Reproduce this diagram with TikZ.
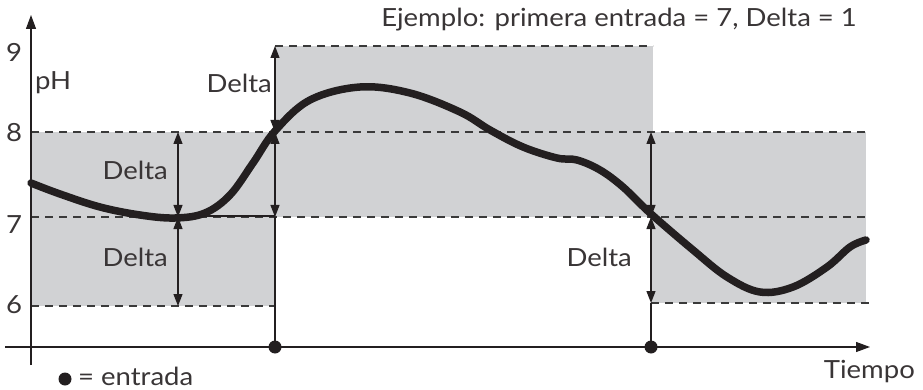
\documentclass[tikz,border=0pt]{standalone}
\usepackage{fontspec}
\setmainfont{Lato}[FakeStretch=1.1]
\usetikzlibrary{arrows.meta}
\definecolor{band}{HTML}{D1D2D4}
\definecolor{dashc}{HTML}{3A3A3A}
\definecolor{txt}{HTML}{231F20}
\begin{document}
\begin{tikzpicture}[x=1pt,y=-1pt,
  lab/.style={font=\fontsize{25}{29}\selectfont, text=txt!90, inner sep=0pt},
  dline/.style={draw=dashc, line width=1.1pt, dash pattern=on 8pt off 6pt},
  thin/.style={draw=txt, line width=1.2pt},
  dblarr/.style={thin, {Triangle[length=12pt,width=9pt]}-{Triangle[length=12pt,width=9pt]}},
  axis/.style={thin, -{Triangle[length=14pt,width=10pt]}},
  dotmark/.style={circle, fill=txt, inner sep=0pt, minimum size=13pt},
  curve/.style={draw=txt, line width=7.5pt, line cap=round}]
\useasboundingbox (0,0) rectangle (923,390);
% gray bands
\fill[band] (31,132) rectangle (275,306);
\fill[band] (275,46) rectangle (653,217);
\fill[band] (651,132) rectangle (866,303);
% dashed levels
\coordinate (d9a) at (275,46);  \coordinate (d9b) at (653,46);
\coordinate (d8a) at (31,132);  \coordinate (d8b) at (870,132);
\coordinate (d7a) at (31,217);  \coordinate (d7b) at (870,217);
\coordinate (d6a) at (31,306);  \coordinate (d6b) at (275,306);
\coordinate (d6c) at (651,303); \coordinate (d6d) at (870,303);
\draw[dline] (d9a) -- (d9b);
\draw[dline] (d8a) -- (d8b);
\draw[dline] (d7a) -- (d7b);
\draw[dline] (d6a) -- (d6b);
\draw[dline] (d6c) -- (d6d);
% axes
\coordinate (yb) at (31,365); \coordinate (yt) at (31,15);
\coordinate (xl) at (5,347);  \coordinate (xr) at (870,347);
\draw[axis] (yb) -- (yt);
\draw[axis] (xl) -- (xr);
% vertical markers
\coordinate (a8) at (178,132); \coordinate (a7) at (178,217); \coordinate (a6) at (178,306);
\draw[dblarr] (a8) -- (a7);
\draw[dblarr] (a7) -- (a6);
\node[dotmark] (e1) at (275,347) {};
\node[dotmark] (e2) at (651,347) {};
\coordinate (b7) at (275,217); \coordinate (b8) at (275,132); \coordinate (b9) at (275,46);
\draw[thin] (e1.center) -- (b7);
\draw[dblarr] (b7) -- (b8);
\draw[dblarr] (b8) -- (b9);
\coordinate (h1) at (190,216); \coordinate (h2) at (275,216);
\draw[thin] (h1) -- (h2);
\coordinate (c6) at (651,303); \coordinate (c7) at (651,217); \coordinate (c8) at (651,132);
\draw[thin] (e2.center) -- (c6);
\draw[dblarr] (c6) -- (c7);
\draw[dblarr] (c7) -- (c8);
% curve
\draw[curve] plot[smooth, tension=0.6] coordinates {
 (31,183) (60,194) (100,207) (140,215) (175,218) (205,213) (230,195)
 (253,163) (275,131) (310,100) (360,87) (410,93) (460,112) (490,130) (523,147)
 (557,158) (577,160) (600,170) (623,187) (650,213) (693,250) (727,277) (760,292)
 (793,287) (827,267) (850,247) (866,240)};
% labels
\node[lab, anchor=center] (t9) at (14,52) {9};
\node[lab, anchor=center] (t8) at (14,133) {8};
\node[lab, anchor=center] (t7) at (14,225) {7};
\node[lab, anchor=center] (t6) at (14,305) {6};
\node[lab, anchor=base west] (ph) at (35,90) {pH};
\node[lab, anchor=base east] (dl1) at (272,93) {Delta};
\node[lab, anchor=base east] (dl2) at (168,179) {Delta};
\node[lab, anchor=base east] (dl3) at (168,266) {Delta};
\node[lab, anchor=base east] (dl4) at (632,266) {Delta};
\node[lab, anchor=base east] (ej) at (857,27) {Ejemplo: primera entrada = 7, Delta = 1};
\node[lab, anchor=base east] (ti) at (915,378) {Tiempo};
\node[dotmark] (ld) at (65,379) {};
\node[lab, anchor=base west] (le) at (78,385) {= entrada};
\end{tikzpicture}
\end{document}
